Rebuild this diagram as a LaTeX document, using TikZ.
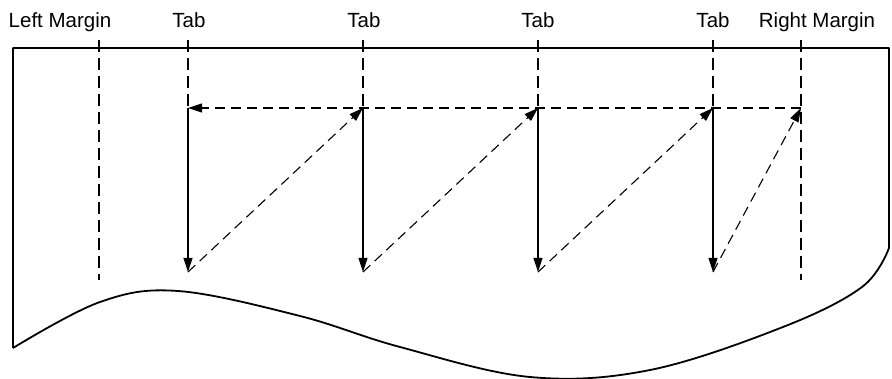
\documentclass[tikz,border=0pt]{standalone}
\usepackage{fontspec}
\setmainfont{Liberation Sans}
\usetikzlibrary{arrows.meta}
\begin{document}
\begin{tikzpicture}[x=1pt,y=-1pt,
  paper/.style={line width=1.8pt},
  guide/.style={line width=1.1pt,dash pattern=on 12pt off 6pt},
  feed/.style={line width=1.1pt,-{Triangle[length=14pt,width=9pt]}},
  ret/.style={line width=1.1pt,dash pattern=on 10pt off 6pt,-{Triangle[length=14pt,width=9pt]}},
  lbl/.style={font=\fontsize{20.5}{24}\selectfont,anchor=base,inner sep=0pt}]
\useasboundingbox (0,0) rectangle (892,379);
% paper
\draw[paper,line join=round] (889,248) -- (889,48) -- (13,48) -- (13,348)
  plot[smooth,tension=0.6] coordinates {(13,348) (100,302) (178,291) (300,316) (400,347) (530,377) (650,370) (783,327) (862,287) (889,248)};
% labels
\node[lbl] (lm) at (60,28) {Left Margin};
\node[lbl] (t1) at (189,28) {Tab};
\node[lbl] (t2) at (364,28) {Tab};
\node[lbl] (t3) at (538,28) {Tab};
\node[lbl] (t4) at (713,28) {Tab};
\node[lbl] (rm) at (817,28) {Right Margin};
% coordinates
\coordinate (lmt) at (99,40);  \coordinate (lmb) at (99,280);
\coordinate (rmt) at (801,40); \coordinate (rmb) at (801,280);
\coordinate (r) at (801,108);
\foreach \i/\x in {1/188,2/363,3/538,4/713}{
  \coordinate (g\i) at (\x,40);
  \coordinate (a\i) at (\x,108);
  \coordinate (b\i) at (\x,272);
}
% guides
\draw[guide] (lmt) -- (lmb);
\draw[guide] (rmt) -- (rmb);
\foreach \i in {1,...,4}{\draw[guide] (g\i) -- (a\i);}
% carriage return line
\draw[ret] (r) -- (a1);
% line feeds
\foreach \i in {1,...,4}{\draw[feed] (a\i) -- (b\i);}
% diagonal returns
\draw[ret] (b1) -- (a2);
\draw[ret] (b2) -- (a3);
\draw[ret] (b3) -- (a4);
\draw[ret] (b4) -- (r);
\end{tikzpicture}
\end{document}
